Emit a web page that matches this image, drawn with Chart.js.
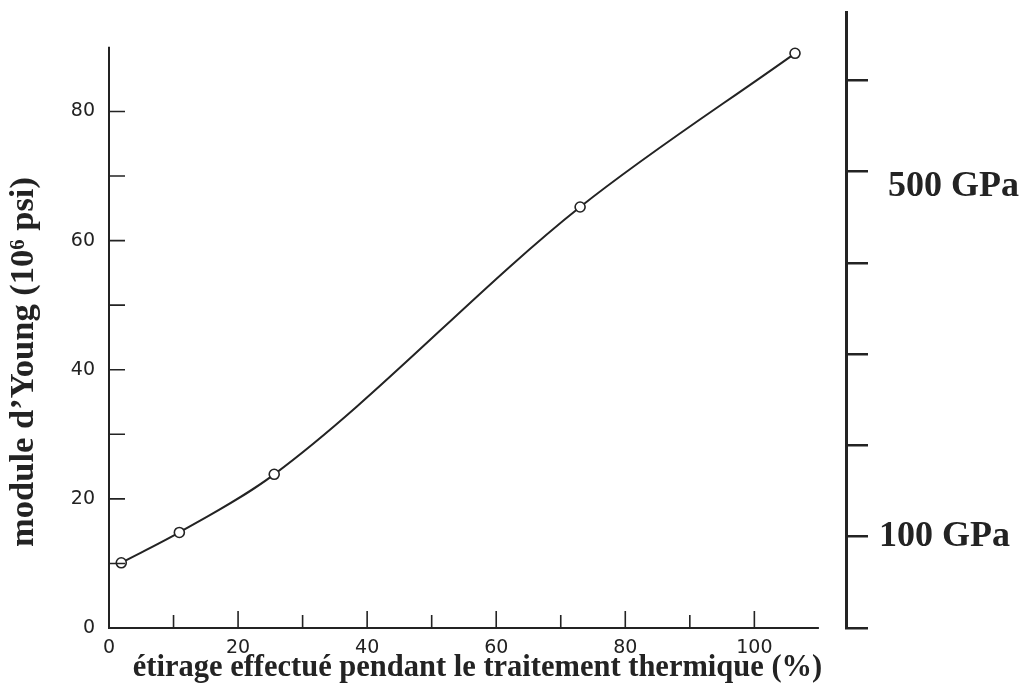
<!DOCTYPE html>
<html>
<head>
<meta charset="utf-8">
<script src="https://cdn.jsdelivr.net/npm/chart.js@4/dist/chart.umd.min.js"></script>
<style>
  html, body { margin: 0; padding: 0; background: #ffffff; }
  #wrap { width: 1032px; height: 691px; position: relative; }
</style>
</head>
<body>
<div id="wrap"><canvas id="c"></canvas></div>
<script>
// ---- data ----
const stretchPct = [1.9, 10.9, 25.6, 73.0, 106.3];          // x: étirage (%)
const youngPsi   = [10.1, 14.8, 23.8, 65.2, 89.0];          // y: module d'Young (10^6 psi)
const xTickValues = [0, 20, 40, 60, 80, 100];
const yTickValues = [0, 20, 40, 60, 80];
const gpaTickValues = [0, 100, 200, 300, 400, 500, 600];
const gpaLabelText = { 100: '100 GPa', 500: ['', ' 500 GPa'] };
const xMinorTicks = [10, 20, 30, 40, 50, 60, 70, 80, 90, 100];
const yMinorTicks = [10, 20, 30, 40, 50, 60, 70, 80];
const yTitle = 'module d\u2019Young (10\u2076 psi)';
const xTitle = '\u00e9tirage effectu\u00e9 pendant le traitement thermique (%)';

const INK = '#232323';

function noPad(scale) {
  scale.paddingTop = 0;
  scale.paddingBottom = 0;
  scale.paddingLeft = 0;
  scale.paddingRight = 0;
}

const axisPlugin = {
  id: 'axisPlugin',
  afterDraw(chart) {
    const ctx = chart.ctx;
    const xs = chart.scales.x, ys = chart.scales.y;
    const x0 = xs.getPixelForValue(0), x1 = xs.getPixelForValue(110);
    const y0 = ys.getPixelForValue(0), y1 = ys.getPixelForValue(90);
    ctx.save();
    ctx.strokeStyle = INK;
    ctx.lineCap = 'butt';
    ctx.lineWidth = 2;
    ctx.beginPath();
    ctx.moveTo(x0, y1);
    ctx.lineTo(x0, y0);
    ctx.lineTo(x1, y0);
    ctx.stroke();
    ctx.lineWidth = 1.6;
    ctx.beginPath();
    xMinorTicks.forEach(v => {
      const px = xs.getPixelForValue(v);
      const len = (v % 20 === 0) ? 17 : 13;
      ctx.moveTo(px, y0);
      ctx.lineTo(px, y0 - len);
    });
    yMinorTicks.forEach(v => {
      const py = ys.getPixelForValue(v);
      ctx.moveTo(x0, py);
      ctx.lineTo(x0 + 16, py);
    });
    ctx.stroke();
    ctx.translate(24, 362);
    ctx.rotate(-Math.PI / 2);
    ctx.fillStyle = INK;
    ctx.font = 'bold 34.5px "Liberation Serif", "Times New Roman", serif';
    ctx.textAlign = 'center';
    ctx.textBaseline = 'middle';
    ctx.fillText(yTitle, 0, 0);
    ctx.restore();
  }
};

new Chart(document.getElementById('c'), {
  type: 'line',
  data: {
    datasets: [{
      data: stretchPct.map((x, i) => ({ x: x, y: youngPsi[i] })),
      xAxisID: 'x',
      yAxisID: 'y',
      borderColor: INK,
      borderWidth: 2,
      tension: 0.4,
      cubicInterpolationMode: 'monotone',
      pointRadius: 5,
      pointBorderWidth: 1.6,
      pointBackgroundColor: '#ffffff',
      pointBorderColor: INK,
      clip: false
    }]
  },
  options: {
    responsive: true,
    maintainAspectRatio: false,
    animation: false,
    layout: { padding: { top: 12, left: 0, right: 0, bottom: 0 } },
    plugins: { legend: { display: false }, tooltip: { enabled: false } },
    scales: {
      x: {
        type: 'linear',
        position: 'bottom',
        min: 0,
        max: 114.2,
        grid: { display: false },
        border: { display: false },
        afterBuildTicks(scale) { scale.ticks = xTickValues.map(v => ({ value: v })); },
        afterFit(scale) { scale.height = 63; noPad(scale); },
        ticks: {
          padding: 1,
          color: '#222',
          font: { family: '"DejaVu Sans", sans-serif', size: 19 },
          maxRotation: 0,
          autoSkip: false,
          callback: v => String(v)
        },
        title: {
          display: true,
          text: xTitle,
          color: INK,
          font: { family: '"Liberation Serif", "Times New Roman", serif', size: 30.5, weight: 'bold' },
          padding: { top: 0, bottom: 5 }
        }
      },
      y: {
        type: 'linear',
        position: 'left',
        min: 0,
        max: 95.4,
        grid: { display: false },
        border: { display: false },
        afterBuildTicks(scale) { scale.ticks = yTickValues.map(v => ({ value: v })); },
        afterFit(scale) { scale.width = 109; noPad(scale); },
        ticks: {
          padding: 6,
          color: '#222',
          font: { family: '"DejaVu Sans", sans-serif', size: 19 },
          callback: v => String(v)
        }
      },
      y2: {
        type: 'linear',
        position: 'right',
        min: 0,
        max: 675,
        grid: { drawOnChartArea: false, drawTicks: true, tickLength: 22, lineWidth: 2.5, color: INK },
        border: { display: true, width: 3, color: INK },
        afterBuildTicks(scale) { scale.ticks = gpaTickValues.map(v => ({ value: v })); },
        afterFit(scale) { scale.width = 186; noPad(scale); },
        ticks: {
          padding: 11,
          color: INK,
          font: { family: '"Liberation Serif", "Times New Roman", serif', size: 36, weight: 'bold', lineHeight: 0.82 },
          callback: v => gpaLabelText[v] || ''
        }
      }
    }
  },
  plugins: [axisPlugin]
});
</script>
</body>
</html>
